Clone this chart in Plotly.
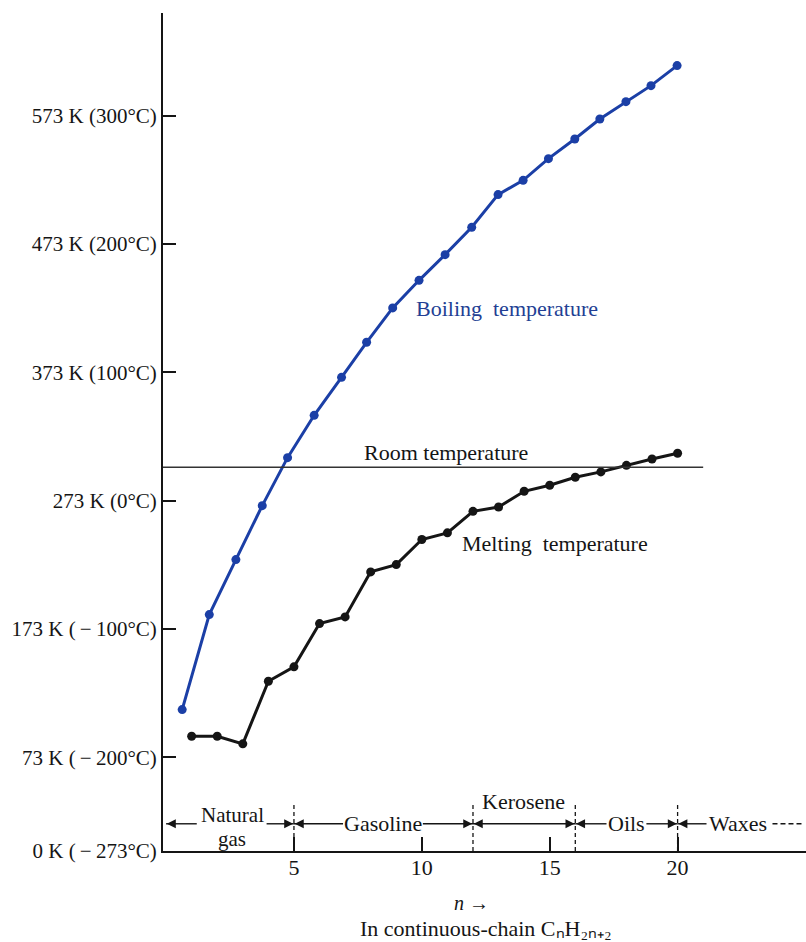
import plotly.graph_objects as go

# ---- data ----
n_melt = list(range(1, 21))
melt_K = [89.4, 89.4, 83.5, 132.3, 143.5, 177.2, 182.4, 217.5, 223.2, 242.7,
          247.9, 264.7, 268.1, 280.3, 285.0, 291.2, 295.4, 300.5, 305.5, 309.9]
n_boil = [0.63, 1.69, 2.73, 3.76, 4.75, 5.79, 6.86, 7.84, 8.86, 9.89,
          10.91, 11.95, 12.98, 13.96, 14.95, 15.98, 16.96, 17.98, 18.96, 19.98]
boil_K = [110.2, 184.2, 227.1, 269.1, 306.5, 339.5, 369.1, 396.4, 423.2, 444.7,
          464.7, 486.0, 511.5, 522.6, 539.5, 554.8, 570.4, 583.9, 596.4, 612.0]
room_K = 299
room_n = [-0.12, 21.0]

y_tickvals = [0, 73, 173, 273, 373, 473, 573]
y_ticktext = ["0 K (\u2009\u2212\u2009273°C)", "73 K (\u2009\u2212\u2009200°C)",
              "173 K (\u2009\u2212\u2009100°C)", "273 K (0°C)", "373 K (100°C)",
              "473 K (200°C)", "573 K (300°C)"]
x_tickvals = [5, 10, 15, 20]

# petroleum fractions along n
frac_names = ["Natural", "Gasoline", "Kerosene", "Oils", "Waxes"]
frac_start = [0, 5, 12, 16, 20]
frac_end = [5, 12, 16, 20, 24.9]
frac_label_n = [2.58, 8.48, 13.99, 18.0, 22.36]
boundaries = [5, 12, 16, 20]

FONT = "Liberation Serif"
BLUE = "#1b3fa6"
INK = "#151515"

# layout helpers: where the arrow shaft is interrupted by a label (n units)
label_gap = [(1.2, 3.93), (6.92, 10.04), None, (17.22, 18.78), (21.13, 23.71)]
arrow_y = 21.2

fig = go.Figure()

# arrow shafts
sx, sy, dx, dy = [], [], [], []
for i, (s, e) in enumerate(zip(frac_start, frac_end)):
    g = label_gap[i]
    if i == len(frac_start) - 1:
        sx += [s, g[0], None]; sy += [arrow_y, arrow_y, None]
        dx += [g[1], e]; dy += [arrow_y, arrow_y]
    elif g is None:
        sx += [s, e, None]; sy += [arrow_y, arrow_y, None]
    else:
        sx += [s, g[0], None, g[1], e, None]
        sy += [arrow_y, arrow_y, None, arrow_y, arrow_y, None]
fig.add_trace(go.Scatter(x=sx, y=sy, mode="lines", line=dict(color=INK, width=1.4),
                         hoverinfo="skip"))
fig.add_trace(go.Scatter(x=dx, y=dy, mode="lines",
                         line=dict(color=INK, width=1.4, dash="5px,3px"), hoverinfo="skip"))
# arrow heads
hx, hy, hs = [], [], []
for i, (s, e) in enumerate(zip(frac_start, frac_end)):
    hx.append(s + 0.03); hy.append(arrow_y); hs.append("arrow-left")
    if i < len(frac_start) - 1:
        hx.append(e - 0.03); hy.append(arrow_y); hs.append("arrow-right")
fig.add_trace(go.Scatter(x=hx, y=hy, mode="markers",
                         marker=dict(symbol=hs, size=9, color=INK, line=dict(width=0)),
                         hoverinfo="skip"))

fig.add_trace(go.Scatter(x=n_boil, y=boil_K, mode="lines+markers",
                         line=dict(color=BLUE, width=3),
                         marker=dict(color=BLUE, size=9), cliponaxis=False))
fig.add_trace(go.Scatter(x=n_melt, y=melt_K, mode="lines+markers",
                         line=dict(color=INK, width=3),
                         marker=dict(color=INK, size=9), cliponaxis=False))

shapes = []
shapes.append(dict(type="line", xref="x", yref="y", x0=room_n[0], x1=room_n[1],
                   y0=room_K, y1=room_K, line=dict(color="#333", width=1.5)))
for b in boundaries:
    shapes.append(dict(type="line", xref="x", yref="y", x0=b, x1=b, y0=0, y1=37,
                       line=dict(color=INK, width=1.3, dash="4px,3px")))

ann = []
lbl_font = dict(family=FONT, size=22, color=INK)
ann.append(dict(x=frac_label_n[0], y=27.8, xref="x", yref="y", text=frac_names[0],
                showarrow=False, font=dict(family=FONT, size=21, color=INK)))
ann.append(dict(x=frac_label_n[0], y=9.0, xref="x", yref="y", text="gas",
                showarrow=False, font=dict(family=FONT, size=21, color=INK)))
ann.append(dict(x=frac_label_n[1], y=arrow_y + 0.5, xref="x", yref="y", text=frac_names[1],
                showarrow=False, font=lbl_font))
ann.append(dict(x=frac_label_n[2], y=38.3, xref="x", yref="y", text=frac_names[2],
                showarrow=False, font=lbl_font))
ann.append(dict(x=frac_label_n[3], y=arrow_y + 0.5, xref="x", yref="y", text=frac_names[3],
                showarrow=False, font=lbl_font))
ann.append(dict(x=frac_label_n[4], y=arrow_y + 0.5, xref="x", yref="y", text=frac_names[4],
                showarrow=False, font=lbl_font))

# curve labels
ann.append(dict(x=13.31, y=422.5, xref="x", yref="y", text="Boiling\u00a0 temperature",
                showarrow=False, font=dict(family=FONT, size=22, color="#233f94")))
ann.append(dict(x=10.94, y=310.5, xref="x", yref="y", text="Room temperature",
                showarrow=False, font=lbl_font))
ann.append(dict(x=15.2, y=239.7, xref="x", yref="y", text="Melting\u00a0 temperature",
                showarrow=False, font=lbl_font))

# x-axis titles (below the plot area, paper-referenced vertically)
ann.append(dict(x=11.96, y=-0.0620, xref="x", yref="paper", text="<i>n</i> \u2192",
                showarrow=False, font=dict(family=FONT, size=20, color=INK), yanchor="middle"))
ann.append(dict(x=12.5, y=-0.0925, xref="x", yref="paper",
                text="In continuous-chain C\u2099H\u2082\u2099\u208a\u2082",
                showarrow=False, font=lbl_font, yanchor="middle"))

fig.update_layout(
    width=806, height=942, autosize=False,
    margin=dict(l=163, r=0, t=13, b=91, pad=0),
    paper_bgcolor="white", plot_bgcolor="white",
    showlegend=False, shapes=shapes, annotations=ann,
    font=dict(family=FONT, size=22, color=INK),
)
fig.update_xaxes(range=[-0.12, 25.02], showgrid=False, zeroline=False,
                 showline=True, linecolor=INK, linewidth=2,
                 tickmode="array", tickvals=x_tickvals, ticks="inside",
                 ticklen=14, tickwidth=2, tickcolor=INK, ticklabelstandoff=-4,
                 tickfont=dict(family=FONT, size=22, color=INK))
fig.update_yaxes(range=[0, 653], showgrid=False, zeroline=False,
                 showline=True, linecolor=INK, linewidth=2,
                 tickmode="array", tickvals=y_tickvals, ticktext=y_ticktext,
                 ticks="inside", ticklen=13, tickwidth=2, tickcolor=INK,
                 tickfont=dict(family=FONT, size=21, color=INK))

fig.write_html("out.html")
